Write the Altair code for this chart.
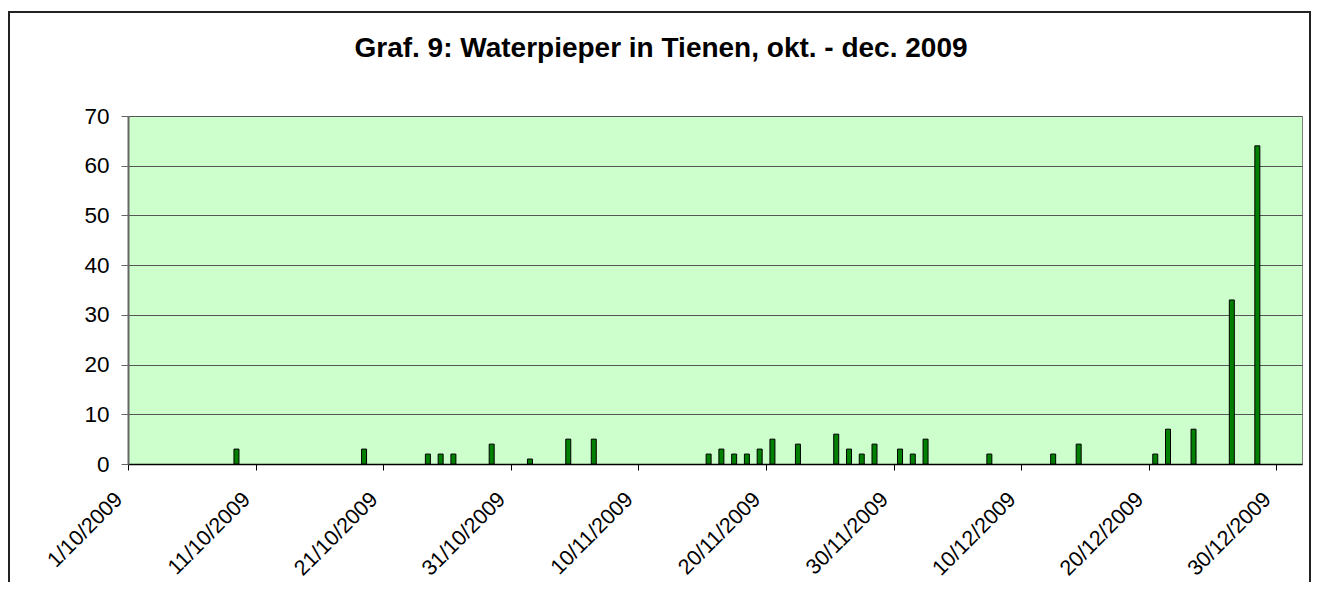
import altair as alt
import pandas as pd

title_text = "Graf. 9: Waterpieper in Tienen, okt. - dec. 2009"

dates = [
    "2009-10-09", "2009-10-19", "2009-10-24", "2009-10-25", "2009-10-26",
    "2009-10-29", "2009-11-01", "2009-11-04", "2009-11-06", "2009-11-15",
    "2009-11-16", "2009-11-17", "2009-11-18", "2009-11-19", "2009-11-20",
    "2009-11-22", "2009-11-25", "2009-11-26", "2009-11-27", "2009-11-28",
    "2009-11-30", "2009-12-01", "2009-12-02", "2009-12-07", "2009-12-12",
    "2009-12-14", "2009-12-20", "2009-12-21", "2009-12-23", "2009-12-26",
    "2009-12-28",
]
counts = [
    3, 3, 2, 2, 2,
    4, 1, 5, 5, 2,
    3, 2, 2, 3, 5,
    4, 6, 3, 2, 4,
    3, 2, 5, 2, 2,
    4, 2, 7, 7, 33,
    64,
]
tick_days = [(2009, 10, 1), (2009, 10, 11), (2009, 10, 21), (2009, 10, 31),
             (2009, 11, 10), (2009, 11, 20), (2009, 11, 30), (2009, 12, 10),
             (2009, 12, 20), (2009, 12, 30)]
y_ticks = [0, 10, 20, 30, 40, 50, 60, 70]

df = pd.DataFrame({"datum_str": dates, "aantal": counts})

FONT = "Liberation Sans"
W, H = 1174, 348

x_scale = alt.Scale(
    domain=[alt.DateTime(year=2009, month=10, date=1),
            alt.DateTime(year=2010, month=1, date=1)],
    nice=False, padding=0,
)

bars = alt.Chart(df).transform_calculate(
    dag="datetime(utcyear(toDate(datum.datum_str)), utcmonth(toDate(datum.datum_str)), utcdate(toDate(datum.datum_str)), 12)"
).mark_bar(width=5, color="#008000", stroke="#000000", strokeWidth=1).encode(
    x=alt.X("dag:T", scale=x_scale, title=None,
            axis=alt.Axis(
                values=[alt.DateTime(year=a, month=b, date=c) for a, b, c in tick_days],
                format="%-d/%m/%Y", labelAngle=-45, labelAlign="right",
                labelBaseline="middle", labelPadding=26, labelOffset=-9,
                labelFontSize=21.5,
                labelFont=FONT, labelColor="#000000", labelOverlap=False,
                labelBound=False, labelFlush=False,
                tickSize=6, tickColor="#000000", tickWidth=1,
                domainColor="#000000", domainWidth=1.5, grid=False)),
    y=alt.Y("aantal:Q", scale=alt.Scale(domain=[0, 70], nice=False, padding=0), title=None,
            axis=alt.Axis(values=y_ticks, grid=True, gridColor="#555555",
                          gridWidth=1, domainColor="#666666", domainWidth=2,
                          tickColor="#666666", tickSize=7, tickWidth=1,
                          labelFontSize=22.5, labelFont=FONT, labelColor="#000000",
                          labelPadding=12)),
)

frame = alt.Chart(alt.Data(values=[{}])).mark_rect(
    fill=None, stroke="#222222", strokeWidth=2
).encode(
    x=alt.value(-119), x2=alt.value(1182), y=alt.value(-104), y2=alt.value(480)
)

title = alt.Chart(alt.Data(values=[{}])).mark_text(
    text=title_text, font=FONT, fontSize=28, fontWeight="bold",
    align="center", baseline="alphabetic", color="#000000"
).encode(x=alt.value(533), y=alt.value(-59))

chart = alt.layer(bars, frame, title).properties(
    width=W, height=H,
    autosize=alt.AutoSizeParams(type="none"),
    padding={"left": 120, "top": 108, "right": 9, "bottom": 118},
).configure_view(fill="#CCFFCC", stroke="#808080", strokeWidth=1)

chart.save("out.html", embed_options={"renderer": "svg", "actions": False})
